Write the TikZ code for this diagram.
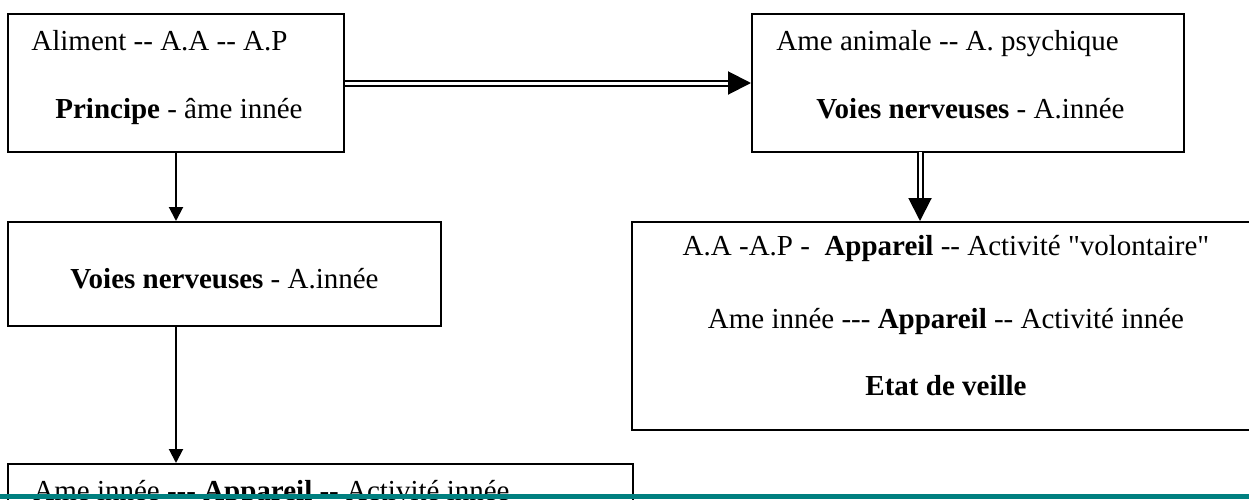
\documentclass[tikz,border=0pt]{standalone}
\usepackage{fontspec}
\setmainfont{Liberation Serif}[Ligatures=TeXOff]
\usetikzlibrary{arrows.meta}
\definecolor{barteal}{RGB}{0,128,128}

\begin{document}
\begin{tikzpicture}[x=0.5pt, y=-0.5pt,
    box/.style={draw, line width=1pt, inner sep=0pt},
    txt/.style={anchor=base west, inner sep=0pt, font=\fontsize{14.5}{17}\selectfont},
    ctxt/.style={txt, anchor=base},
    arr/.style={line width=1pt, -{Triangle[length=7pt, width=7pt]}},
    dbl/.style={line width=1pt, double distance=1.5pt, shorten >=10pt},
    dblhead/.style={line width=1pt, -{Triangle[length=11.5pt, width=11.5pt]}}]
  \useasboundingbox (0, 0) rectangle (1249, 499);
  \fill[white] (0, 0) rectangle (1249, 499);
  \clip (0, 0) rectangle (1249, 499);

  \node[box, minimum width=168pt, minimum height=69pt] (aliment) at (176, 83) {};
  \node[txt] (aliment1) at (31, 50) {Aliment -- A.A -- A.P};
  \node[txt] (aliment2) at (55, 118) {\textbf{Principe} - âme innée};

  \node[box, minimum width=216pt, minimum height=69pt] (ame) at (968, 83) {};
  \node[txt] (ame1) at (776, 50) {Ame animale -- A. psychique};
  \node[txt] (ame2) at (816, 118) {\textbf{Voies nerveuses} - A.innée};

  \node[box, minimum width=216.5pt, minimum height=52pt] (voies) at (224.5, 274) {};
  \node[txt] (voies1) at (70, 288) {\textbf{Voies nerveuses} - A.innée};

  \node[box, minimum width=314pt, minimum height=104pt] (etat) at (946, 326) {};
  \node[ctxt] (etat1) at (946, 255) {A.A -A.P -\ \ \textbf{Appareil} -- Activité "volontaire"};
  \node[ctxt] (etat2) at (946, 328) {Ame innée --- \textbf{Appareil} -- Activité innée};
  \node[ctxt] (etat3) at (946, 395) {\textbf{Etat de veille}};

  \node[box, minimum width=312.5pt, minimum height=68pt] (appareil) at (320.5, 532) {};
  \node[txt] (appareil1) at (33, 500) {Ame innée --- \textbf{Appareil} -- Activité innée};

  \draw[arr] (aliment.south) -- (aliment.south |- voies.north);
  \draw[arr] (aliment.south |- voies.south) -- (aliment.south |- appareil.north);

  \draw[dbl] (aliment.east) -- (ame.west);
  \draw[dblhead] ([xshift=-11.5pt]ame.west) -- (ame.west);

  \coordinate (d1) at (920, 152);
  \coordinate (d2) at (d1 |- etat.north);
  \draw[dbl] (d1) -- (d2);
  \draw[dblhead] ([yshift=11.5pt]d2) -- (d2);

  \fill[barteal] (0, 494) rectangle (1249, 499);
\end{tikzpicture}
\end{document}
